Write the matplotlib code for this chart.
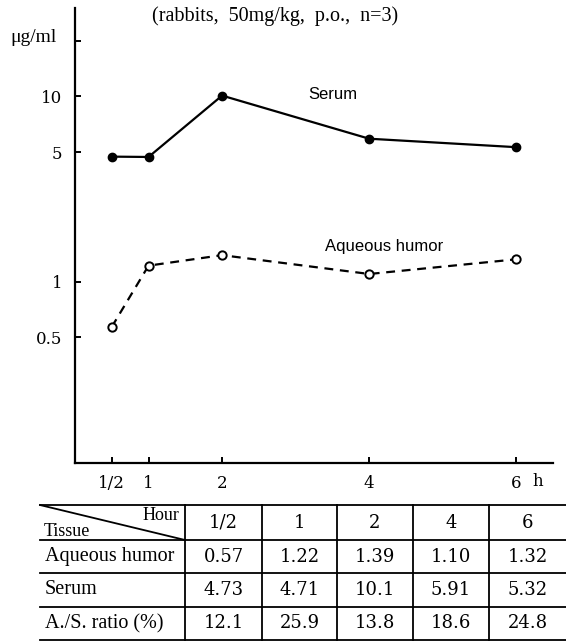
import matplotlib
matplotlib.use("Agg")
import matplotlib.pyplot as plt
from matplotlib.lines import Line2D

plt.rcParams["font.family"] = ["Liberation Serif", "DejaVu Serif"]

# data
hours = [0.5, 1, 2, 4, 6]
hour_labels = ["1/2", "1", "2", "4", "6"]
aqueous = [0.57, 1.22, 1.39, 1.10, 1.32]
serum = [4.73, 4.71, 10.1, 5.91, 5.32]
ratio = ["12.1", "25.9", "13.8", "18.6", "24.8"]
aqueous_txt = ["0.57", "1.22", "1.39", "1.10", "1.32"]
serum_txt = ["4.73", "4.71", "10.1", "5.91", "5.32"]
row_names = ["Aqueous humor", "Serum", "A./S. ratio (%)"]

W, H = 566, 642
fig = plt.figure(figsize=(W / 100, H / 100), dpi=100)
num_font = ["DejaVu Serif"]

ax = fig.add_axes([75 / W, 1 - 463 / H, (553 - 75) / W, (463 - 8) / H])
ax.set_yscale("log")
ax.set_xlim(0, 6.5)
ax.set_ylim(0.105, 30)

ax.plot(hours, serum, "-", color="black", lw=1.6, marker="o", ms=6,
        mfc="black", mec="black")
ax.plot(hours, aqueous, "--", color="black", lw=1.6, marker="o", ms=6,
        mfc="white", mec="black", mew=1.4, dashes=(4, 3))

ax.text(3.5, 10.2, "Serum", ha="center", va="center", fontsize=12,
        family=["Liberation Sans", "DejaVu Sans"])
ax.text(4.2, 1.55, "Aqueous humor", ha="center", va="center", fontsize=12,
        family=["Liberation Sans", "DejaVu Sans"])

for s in ["top", "right"]:
    ax.spines[s].set_visible(False)
ax.spines["left"].set_linewidth(1.6)
ax.spines["bottom"].set_linewidth(1.6)

ax.set_yticks([0.5, 1, 5, 10, 20])
ax.set_yticklabels(["0.5", "1", "5", "10", ""])
ax.minorticks_off()
ax.set_xticks(hours)
ax.set_xticklabels(hour_labels)
ax.tick_params(axis="both", direction="in", length=4, width=1.4, labelsize=13)
ax.tick_params(axis="y", pad=9)
ax.tick_params(axis="x", pad=9)
for lab in ax.get_xticklabels() + ax.get_yticklabels():
    lab.set_family(num_font)
    lab.set_fontsize(12)

fig.text(538 / W, 1 - 482 / H, "h", ha="center", va="center", fontsize=12,
         family=num_font)
fig.text(33 / W, 1 - 38 / H, "μg/ml", ha="center", va="center", fontsize=14)
fig.text(275 / W, 1 - 16 / H, "(rabbits,  50mg/kg,  p.o.,  n=3)",
         ha="center", va="center", fontsize=14.5)

# table
tx = fig.add_axes([0, 0, 1, 1])
tx.set_xlim(0, W)
tx.set_ylim(H, 0)
tx.axis("off")

row_y = [505, 540, 573, 607, 640]
col_x = [40, 185, 262, 337, 413, 489, 566]
for y in row_y:
    tx.add_line(Line2D([col_x[0], col_x[-1]], [y, y], color="black", lw=1.3))
for x in col_x[1:-1]:
    tx.add_line(Line2D([x, x], [row_y[0], row_y[-1]], color="black", lw=1.3))
tx.add_line(Line2D([col_x[0], col_x[1]], [row_y[0], row_y[1]], color="black", lw=1.3))

tx.text(179, 515, "Hour", ha="right", va="center", fontsize=13)
tx.text(44, 531, "Tissue", ha="left", va="center", fontsize=13)

rows = [hour_labels, aqueous_txt, serum_txt, ratio]
for r, vals in enumerate(rows):
    yc = (row_y[r] + row_y[r + 1]) / 2
    if r > 0:
        tx.text(45, yc, row_names[r - 1], ha="left", va="center", fontsize=14.5)
    for c, v in enumerate(vals):
        xc = (col_x[c + 1] + col_x[c + 2]) / 2
        tx.text(xc, yc, v, ha="center", va="center", fontsize=13,
                family=num_font)

fig.savefig("out.png", dpi=100)
